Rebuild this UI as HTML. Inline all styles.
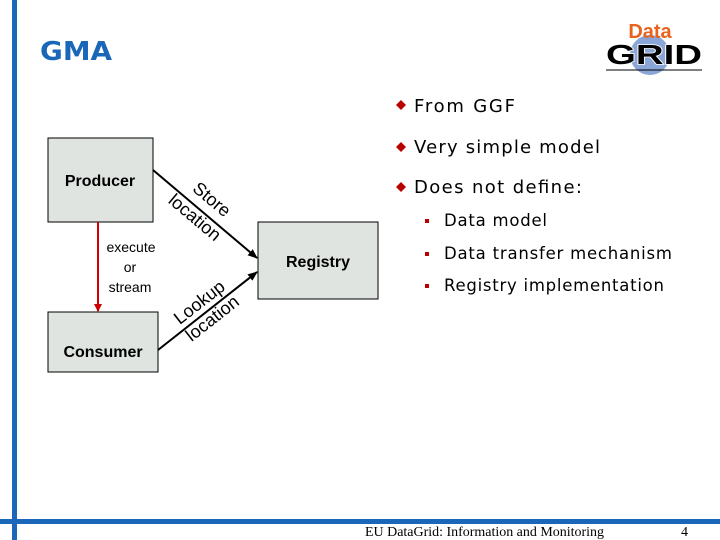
<!DOCTYPE html>
<html><head><meta charset="utf-8"><style>
body{margin:0;width:720px;height:540px;overflow:hidden;background:#fff;font-family:"Liberation Sans","DejaVu Sans",sans-serif;}
</style></head><body>
<svg width="720" height="540" xmlns="http://www.w3.org/2000/svg" style="position:absolute;left:0;top:0">
<defs>
<marker id="ah" markerWidth="10" markerHeight="8" refX="9" refY="4" orient="auto" markerUnits="userSpaceOnUse"><path d="M0,0 L10,4 L0,8 z" fill="#000"/></marker>
<marker id="ahr" markerWidth="8" markerHeight="8" refX="7" refY="4" orient="auto" markerUnits="userSpaceOnUse"><path d="M0,0 L8,4 L0,8 z" fill="#c00"/></marker>
</defs>
<rect x="12" y="0" width="5" height="540" fill="#1a66b8"/>
<rect x="0" y="519" width="720" height="5" fill="#1a66b8"/>
<text x="40" y="60" font-family="DejaVu Sans, sans-serif" font-weight="bold" font-size="26" fill="#1a66b8" textLength="72" lengthAdjust="spacingAndGlyphs">GMA</text>
<!-- logo -->
<circle cx="650" cy="55" r="20" fill="#8aa6d8"/>
<text x="650" y="38" text-anchor="middle" font-weight="bold" font-size="20" fill="#e8641e">Data</text>
<text x="654" y="64" text-anchor="middle" font-weight="bold" font-size="28" fill="#000" stroke="#fff" stroke-width="1.5" paint-order="stroke" textLength="96" lengthAdjust="spacingAndGlyphs">GRID</text>
<line x1="606" y1="70" x2="702" y2="70" stroke="#000" stroke-width="1"/>
<!-- boxes -->
<rect x="48" y="138" width="105" height="84" fill="#dfe4e1" stroke="#000" stroke-width="1"/>
<rect x="48" y="312" width="110" height="60" fill="#dfe4e1" stroke="#000" stroke-width="1"/>
<rect x="258" y="222" width="120" height="77" fill="#dfe4e1" stroke="#000" stroke-width="1"/>
<text x="100" y="186" text-anchor="middle" font-weight="bold" font-size="16">Producer</text>
<text x="103" y="357" text-anchor="middle" font-weight="bold" font-size="16">Consumer</text>
<text x="318" y="267" text-anchor="middle" font-weight="bold" font-size="16">Registry</text>
<line x1="98" y1="222" x2="98" y2="311" stroke="#c00" stroke-width="2" marker-end="url(#ahr)"/>
<text x="131" y="252" text-anchor="middle" font-size="14">execute</text>
<text x="130" y="272" text-anchor="middle" font-size="14">or</text>
<text x="130" y="292" text-anchor="middle" font-size="14">stream</text>
<line x1="153" y1="170" x2="257" y2="258" stroke="#000" stroke-width="2" marker-end="url(#ah)"/>
<line x1="158" y1="350" x2="257" y2="272" stroke="#000" stroke-width="2" marker-end="url(#ah)"/>
<g font-size="18">
<text transform="translate(208,204) rotate(40)" text-anchor="middle">Store</text>
<text transform="translate(191,222) rotate(40)" text-anchor="middle">location</text>
<text transform="translate(203,307) rotate(-38)" text-anchor="middle">Lookup</text>
<text transform="translate(216,323) rotate(-38)" text-anchor="middle">location</text>
</g>
<!-- bullets -->
<g font-family="DejaVu Sans, sans-serif" font-size="18" fill="#000">
<path d="M396,105 l5,-5 l5,5 l-5,5z" fill="#b00"/>
<text x="414" y="112" textLength="101" lengthAdjust="spacing">From GGF</text>
<path d="M396,147 l5,-5 l5,5 l-5,5z" fill="#b00"/>
<text x="414" y="153" textLength="186" lengthAdjust="spacing">Very simple model</text>
<path d="M396,187 l5,-5 l5,5 l-5,5z" fill="#b00"/>
<text x="414" y="193" textLength="168" lengthAdjust="spacing">Does not define:</text>
</g>
<g font-family="DejaVu Sans, sans-serif" font-size="16.5" fill="#000">
<rect x="425" y="219" width="4" height="4" fill="#b00"/>
<text x="444" y="226" textLength="103" lengthAdjust="spacing">Data model</text>
<rect x="425" y="252" width="4" height="4" fill="#b00"/>
<text x="444" y="259" textLength="228" lengthAdjust="spacing">Data transfer mechanism</text>
<rect x="425" y="284" width="4" height="4" fill="#b00"/>
<text x="444" y="291" textLength="220" lengthAdjust="spacing">Registry implementation</text>
</g>
<text x="365" y="536" font-family="Liberation Serif, serif" font-size="14" textLength="239" lengthAdjust="spacingAndGlyphs">EU DataGrid: Information and Monitoring</text>
<text x="681" y="536" font-family="Liberation Serif, serif" font-size="14">4</text>
</svg>
</body></html>
